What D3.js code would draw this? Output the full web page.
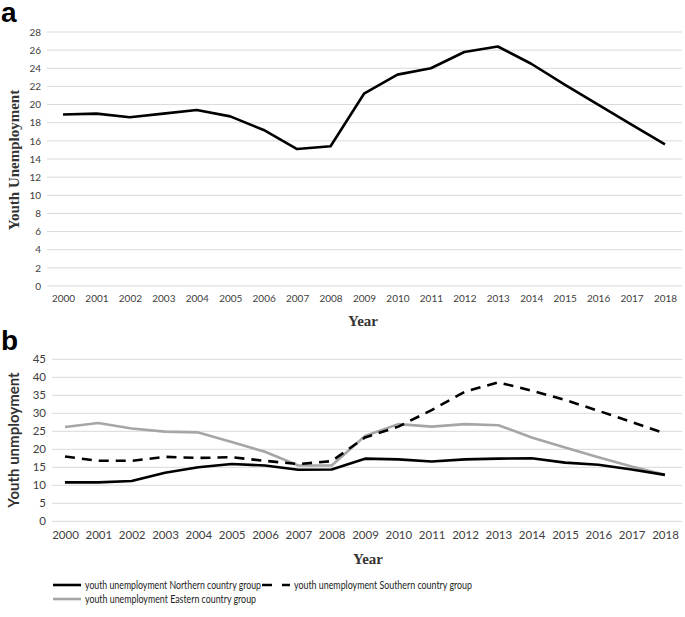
<!DOCTYPE html>
<html>
<head>
<meta charset="utf-8">
<script src="https://cdnjs.cloudflare.com/ajax/libs/d3/7.8.5/d3.min.js"></script>
<style>
  body { margin: 0; background: #fff; }
  svg { display: block; }
</style>
</head>
<body>
<svg id="chart" width="685" height="617"></svg>
<script>
// chart data
var years = ['2000','2001','2002','2003','2004','2005','2006','2007','2008','2009',
             '2010','2011','2012','2013','2014','2015','2016','2017','2018'];

// panel a - total youth unemployment
var youthTotal = [18.9, 19.0, 18.6, 19.0, 19.4, 18.7, 17.2, 15.1, 15.4, 21.2,
                  23.3, 24.0, 25.8, 26.4, 24.5, 22.2, 20.0, 17.8, 15.6];

// panel b - by country group
var youthNorth = [10.8, 10.8, 11.2, 13.5, 15.0, 15.9, 15.5, 14.3, 14.4, 17.4,
                  17.2, 16.6, 17.2, 17.4, 17.5, 16.3, 15.7, 14.4, 12.9];
var youthSouth = [18.0, 16.8, 16.8, 17.9, 17.6, 17.8, 16.8, 15.9, 16.7, 23.3,
                  26.3, 30.9, 36.0, 38.6, 36.3, 33.7, 30.7, 27.6, 24.4];
var youthEast  = [26.2, 27.3, 25.8, 24.9, 24.7, 22.0, 19.3, 15.5, 15.5, 23.7,
                  27.0, 26.3, 27.0, 26.7, 23.3, 20.5, 17.8, 15.2, 12.9];

var ticksA = [0, 2, 4, 6, 8, 10, 12, 14, 16, 18, 20, 22, 24, 26, 28];
var ticksB = [0, 5, 10, 15, 20, 25, 30, 35, 40, 45];

var legendLabels = ['youth unemployment Northern country group',
                    'youth unemployment Southern country group',
                    'youth unemployment Eastern country group'];

var svg = d3.select('#chart');
var tickFont = 'Lato, "Liberation Sans", sans-serif';
var serifFont = '"Liberation Serif", "DejaVu Serif", serif';

/*
 * draw one line panel
 */
function drawPanel(opt) {
  var x = d3.scalePoint().domain(years).range([opt.x0, opt.x1]);
  var y = d3.scaleLinear().domain([0, opt.max]).range([opt.yBottom, opt.yTop]);
  var g = svg.append('g');

  // horizontal gridlines
  g.selectAll('line.grid').data(opt.ticks).enter().append('line')
    .attr('x1', opt.gridLeft).attr('x2', opt.gridRight)
    .attr('y1', function (d) { return y(d); })
    .attr('y2', function (d) { return y(d); })
    .attr('stroke', '#d9d9d9').attr('stroke-width', 1);

  // y axis tick labels
  var yAxis = d3.axisLeft(y).tickValues(opt.ticks).tickSize(0).tickPadding(0);
  var ya = g.append('g').attr('transform', 'translate(' + (opt.gridLeft - 6) + ',0)').call(yAxis);
  ya.select('.domain').remove();
  ya.selectAll('text').attr('font-family', tickFont).attr('font-size', opt.tickSize).attr('fill', '#404040');

  // x axis tick labels
  var xAxis = d3.axisBottom(x).tickSize(0).tickPadding(0);
  var xa = g.append('g').attr('transform', 'translate(0,' + (opt.yBottom + opt.xLabelGap) + ')').call(xAxis);
  xa.select('.domain').remove();
  xa.selectAll('text').attr('font-family', tickFont).attr('font-size', opt.tickSize).attr('fill', '#404040');

  // series lines
  opt.series.forEach(function (s) {
    var line = d3.line()
      .x(function (d, i) { return x(years[i]); })
      .y(function (d) { return y(d); });
    g.append('path').datum(s.values)
      .attr('d', line)
      .attr('fill', 'none')
      .attr('stroke', s.color)
      .attr('stroke-width', 2.6)
      .attr('stroke-linejoin', 'round')
      .attr('stroke-dasharray', s.dash || null);
  });
  return g;
}

// panel a
drawPanel({
  x0: 63, x1: 665, yTop: 32, yBottom: 286, max: 28,
  gridLeft: 47, gridRight: 682, ticks: ticksA, tickSize: 10, xLabelGap: 9,
  series: [{values: youthTotal, color: '#000'}]
});

// panel b
drawPanel({
  x0: 65, x1: 665, yTop: 359.3, yBottom: 521.3, max: 45,
  gridLeft: 52, gridRight: 682, ticks: ticksB, tickSize: 11.5, xLabelGap: 10,
  series: [
    {values: youthEast, color: '#a6a6a6'},
    {values: youthNorth, color: '#000'},
    {values: youthSouth, color: '#000', dash: '10,7'}
  ]
});

// panel letters
svg.append('text').attr('x', 1).attr('y', 22).text('a')
  .attr('font-family', '"Liberation Sans", Arial, sans-serif').attr('font-weight', 'bold').attr('font-size', 28);
svg.append('text').attr('x', 1).attr('y', 350).text('b')
  .attr('font-family', '"Liberation Sans", Arial, sans-serif').attr('font-weight', 'bold').attr('font-size', 28);

// axis titles
svg.append('text').attr('transform', 'translate(19,160) rotate(-90)').attr('text-anchor', 'middle')
  .attr('font-family', serifFont).attr('font-weight', 'bold').attr('font-size', 15).attr('fill', '#333')
  .text('Youth Unemployment');
svg.append('text').attr('x', 363).attr('y', 326).attr('text-anchor', 'middle')
  .attr('font-family', serifFont).attr('font-weight', 'bold').attr('font-size', 15).attr('fill', '#333')
  .text('Year');
svg.append('text').attr('transform', 'translate(19,440) rotate(-90)').attr('text-anchor', 'middle')
  .attr('font-family', tickFont).attr('font-weight', 'bold').attr('font-size', 15).attr('fill', '#333')
  .text('Youth unmployment');
svg.append('text').attr('x', 368).attr('y', 564).attr('text-anchor', 'middle')
  .attr('font-family', serifFont).attr('font-weight', 'bold').attr('font-size', 15).attr('fill', '#333')
  .text('Year');

// legend (text squeezed to the narrow widths of the original font)
var legendItems = [
  {x: 53, y: 585, color: '#000', dash: null, width: 176, label: legendLabels[0]},
  {x: 262, y: 585, color: '#000', dash: '10,10', width: 178, label: legendLabels[1]},
  {x: 53, y: 599, color: '#a6a6a6', dash: null, width: 171, label: legendLabels[2]}
];
var lg = svg.append('g');
legendItems.forEach(function (d) {
  lg.append('line').attr('x1', d.x).attr('x2', d.x + 28).attr('y1', d.y).attr('y2', d.y)
    .attr('stroke', d.color).attr('stroke-width', 2.6).attr('stroke-dasharray', d.dash);
  lg.append('text').attr('x', d.x + 32).attr('y', d.y + 4).text(d.label)
    .attr('font-family', tickFont).attr('font-size', 11).attr('fill', '#222')
    .attr('textLength', d.width).attr('lengthAdjust', 'spacingAndGlyphs');
});
</script>
</body>
</html>
